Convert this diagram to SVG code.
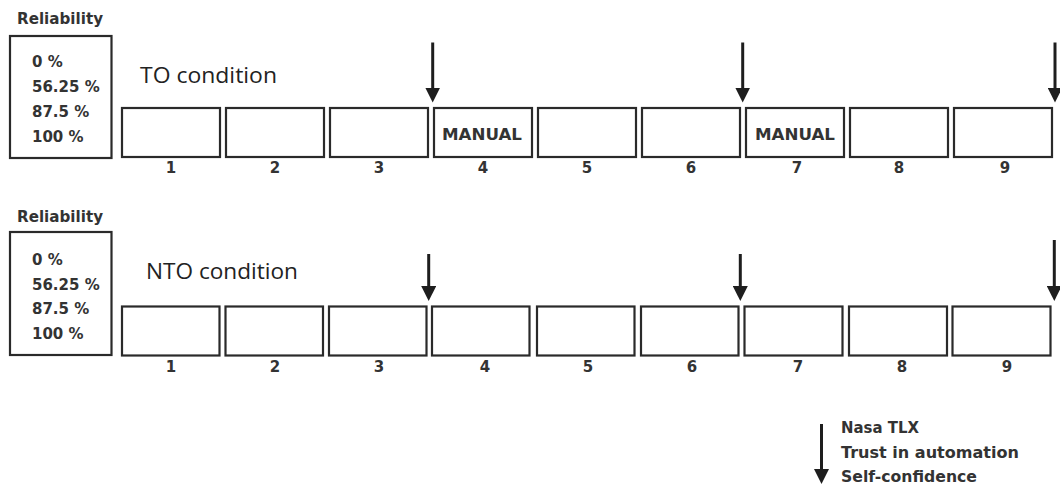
<svg xmlns="http://www.w3.org/2000/svg" width="1060" height="486" viewBox="0 0 1060 486">
  <defs>
    <style>
      .box { fill: #ffffff; stroke: #2a2a2a; stroke-width: 2.2; }
      .lbl { font-family: "DejaVu Sans", "Liberation Sans", sans-serif; font-weight: bold; fill: #333333; }
      .rel { font-size: 15px; }
      .pct { font-size: 15px; }
      .num { font-size: 15px; text-anchor: middle; }
      .man { font-size: 16px; text-anchor: middle; }
      .leg { font-size: 15px; }
      .title { font-family: "Open Sans", "Noto Sans", sans-serif; font-size: 22px; fill: #222222; }
      .arrow { stroke: #1e1e1e; stroke-width: 3; fill: none; marker-end: url(#head); }
    </style>
    <marker id="head" markerUnits="userSpaceOnUse" markerWidth="15" markerHeight="15" refX="6" refY="7.5" orient="auto" viewBox="0 0 15 15">
      <path d="M0,0 L15,7.5 L0,15 Z" fill="#1e1e1e"/>
    </marker>
  </defs>

  <rect width="1060" height="486" fill="#ffffff"/>

  <!-- TO condition row -->
  <g id="reliability-to">
    <text class="lbl rel" x="17" y="23.5" textLength="86" lengthAdjust="spacingAndGlyphs">Reliability</text>
    <rect class="box" x="10" y="36" width="101.5" height="122"/>
    <text class="lbl pct" x="32" y="66.5">0 %</text>
    <text class="lbl pct" x="32" y="91.5">56.25 %</text>
    <text class="lbl pct" x="32" y="116.5">87.5 %</text>
    <text class="lbl pct" x="32" y="141.5">100 %</text>
  </g>
  <g id="title-to">
    <text class="title" x="140" y="83" textLength="137" lengthAdjust="spacingAndGlyphs">TO condition</text>
  </g>
  <g id="to-trial-1"><rect class="box" x="122" y="108" width="98" height="49"/><text class="lbl num" x="171" y="173">1</text></g>
  <g id="to-trial-2"><rect class="box" x="226" y="108" width="98" height="49"/><text class="lbl num" x="275" y="173">2</text></g>
  <g id="to-trial-3"><rect class="box" x="330" y="108" width="98" height="49"/><text class="lbl num" x="379" y="173">3</text></g>
  <g id="to-trial-4"><rect class="box" x="434" y="108" width="98" height="49"/><text class="lbl man" x="482" y="139.5" textLength="80" lengthAdjust="spacingAndGlyphs">MANUAL</text><text class="lbl num" x="483" y="173">4</text></g>
  <g id="to-trial-5"><rect class="box" x="538" y="108" width="98" height="49"/><text class="lbl num" x="587" y="173">5</text></g>
  <g id="to-trial-6"><rect class="box" x="642" y="108" width="98" height="49"/><text class="lbl num" x="691" y="173">6</text></g>
  <g id="to-trial-7"><rect class="box" x="746" y="108" width="98" height="49"/><text class="lbl man" x="795" y="139.5" textLength="80" lengthAdjust="spacingAndGlyphs">MANUAL</text><text class="lbl num" x="797" y="173">7</text></g>
  <g id="to-trial-8"><rect class="box" x="850" y="108" width="98" height="49"/><text class="lbl num" x="899" y="173">8</text></g>
  <g id="to-trial-9"><rect class="box" x="954" y="108" width="98" height="49"/><text class="lbl num" x="1005" y="173">9</text></g>

  <!-- NTO condition row -->
  <g id="reliability-nto">
    <text class="lbl rel" x="17" y="221.5" textLength="86" lengthAdjust="spacingAndGlyphs">Reliability</text>
    <rect class="box" x="10" y="232" width="101.5" height="123"/>
    <text class="lbl pct" x="32" y="265">0 %</text>
    <text class="lbl pct" x="32" y="289.5">56.25 %</text>
    <text class="lbl pct" x="32" y="314">87.5 %</text>
    <text class="lbl pct" x="32" y="338.5">100 %</text>
  </g>
  <g id="title-nto">
    <text class="title" x="146" y="278.5" textLength="152" lengthAdjust="spacingAndGlyphs">NTO condition</text>
  </g>
  <g id="nto-trial-1"><rect class="box" x="122" y="306.5" width="97.5" height="49"/><text class="lbl num" x="171" y="372">1</text></g>
  <g id="nto-trial-2"><rect class="box" x="225.5" y="306.5" width="97.5" height="49"/><text class="lbl num" x="275" y="372">2</text></g>
  <g id="nto-trial-3"><rect class="box" x="329" y="306.5" width="97.5" height="49"/><text class="lbl num" x="379" y="372">3</text></g>
  <g id="nto-trial-4"><rect class="box" x="432" y="306.5" width="97.5" height="49"/><text class="lbl num" x="485" y="372">4</text></g>
  <g id="nto-trial-5"><rect class="box" x="537" y="306.5" width="97.5" height="49"/><text class="lbl num" x="588" y="372">5</text></g>
  <g id="nto-trial-6"><rect class="box" x="641" y="306.5" width="97.5" height="49"/><text class="lbl num" x="692" y="372">6</text></g>
  <g id="nto-trial-7"><rect class="box" x="744.5" y="306.5" width="98" height="49"/><text class="lbl num" x="798" y="372">7</text></g>
  <g id="nto-trial-8"><rect class="box" x="849" y="306.5" width="98" height="49"/><text class="lbl num" x="902" y="372">8</text></g>
  <g id="nto-trial-9"><rect class="box" x="952.5" y="306.5" width="98" height="49"/><text class="lbl num" x="1007" y="372">9</text></g>

  <!-- legend -->
  <g id="legend">
    <text class="lbl leg" x="841" y="433" textLength="78" lengthAdjust="spacingAndGlyphs">Nasa TLX</text>
    <text class="lbl leg" x="841" y="457.5" textLength="178" lengthAdjust="spacingAndGlyphs">Trust in automation</text>
    <text class="lbl leg" x="841" y="482" textLength="136" lengthAdjust="spacingAndGlyphs">Self-confidence</text>
  </g>

  <!-- measurement arrows -->
  <g id="connectors">
    <line class="arrow" x1="432.7" y1="42.5" x2="432.7" y2="93.5"/>
    <line class="arrow" x1="742.7" y1="42.5" x2="742.7" y2="93.5"/>
    <line class="arrow" x1="1055" y1="42.5" x2="1055" y2="93.5"/>
    <line class="arrow" x1="428.7" y1="254" x2="428.7" y2="292"/>
    <line class="arrow" x1="740.3" y1="254" x2="740.3" y2="292"/>
    <line class="arrow" x1="1054.3" y1="240" x2="1054.3" y2="292"/>
    <line class="arrow" x1="821.5" y1="424" x2="821.5" y2="475"/>
  </g>
</svg>
